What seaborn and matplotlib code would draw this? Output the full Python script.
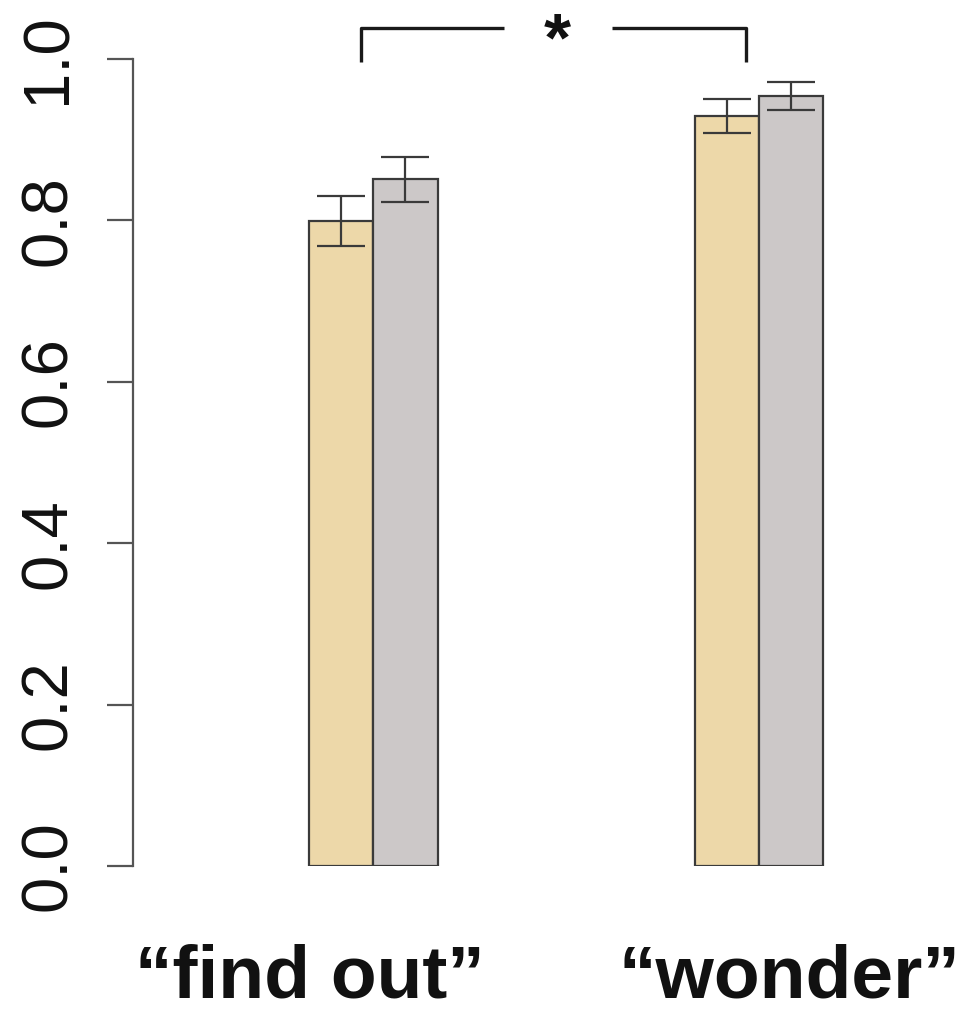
import matplotlib
matplotlib.use("Agg")
import matplotlib.pyplot as plt
import seaborn as sns
import pandas as pd

# values
verbs = ["find out", "wonder"]
groups = ["A", "B"]
means_a = [0.799, 0.929]
means_b = [0.851, 0.954]
errs_a = [0.031, 0.021]
errs_b = [0.028, 0.017]
xlabels = ["\u201cfind out\u201d", "\u201cwonder\u201d"]
yticks = [0.0, 0.2, 0.4, 0.6, 0.8, 1.0]

colors = ["#EDD8A9", "#CCC8C8"]
edge = "#3a3a3a"

df = pd.DataFrame({
    "verb": verbs * 2,
    "group": [groups[0]] * 2 + [groups[1]] * 2,
    "mean": means_a + means_b,
    "err": errs_a + errs_b,
})

sns.set_style("white")
plt.rcParams["font.family"] = ["Liberation Sans", "DejaVu Sans"]
plt.rcParams["text.color"] = "#111111"
plt.rcParams["ytick.labelcolor"] = "#111111"

fig = plt.figure(figsize=(9.74, 10.15), dpi=100)
ax = fig.add_axes([0.1366, 0.1468, 0.8634, 0.8507])

sns.barplot(data=df, x="verb", y="mean", hue="group", order=verbs,
            hue_order=groups, palette=colors, saturation=1, width=0.334,
            errorbar=None, edgecolor=edge, linewidth=1.6, legend=False, ax=ax)

# error bars at the bar centres
for patch, (_, row) in zip(ax.patches, df.iterrows()):
    cx = patch.get_x() + patch.get_width() / 2
    ax.errorbar(cx, patch.get_height(), yerr=row["err"], fmt="none",
                ecolor=edge, elinewidth=1.6, capsize=17, capthick=1.6)

ax.set_xlim(-0.622, 1.557)
ax.set_ylim(0, 1.07)
ax.set_yticks(yticks)
ax.set_yticklabels([f"{t:.1f}" for t in yticks], rotation=90, va="center",
                   fontsize=47)
ax.tick_params(axis="y", length=19, width=1.6, color="#555555", pad=20,
               left=True, labelcolor="#111111")
ax.tick_params(axis="x", bottom=False, labelbottom=False)
ax.set_xlabel("")
ax.set_ylabel("")
for s in ["top", "right", "bottom"]:
    ax.spines[s].set_visible(False)
ax.spines["left"].set_bounds(0, 1.0)
ax.spines["left"].set_color("#555555")
ax.spines["left"].set_linewidth(1.6)

# category labels below the plot
label_x = [-0.165, 0.08]
for i, lab in enumerate(xlabels):
    ax.text(i + label_x[i], -0.163, lab, ha="center", va="baseline",
            fontsize=54, fontweight="bold", color="#111111",
            transform=ax.transData, clip_on=False)

# significance bracket
bx0, bx1 = -0.031, 0.965
by0, by1 = 0.996, 1.038
kw = dict(color="#1a1a1a", lw=2.4, clip_on=False, solid_capstyle="butt")
ax.plot([bx0, bx0, 0.339], [by0, by1, by1], **kw)
ax.plot([0.619, bx1, bx1], [by1, by1, by0], **kw)
ax.text(0.477, 1.02, "*", ha="center", va="center", fontsize=50,
        fontweight="bold", color="#111111", clip_on=False)

fig.savefig("out.png", dpi=100)
